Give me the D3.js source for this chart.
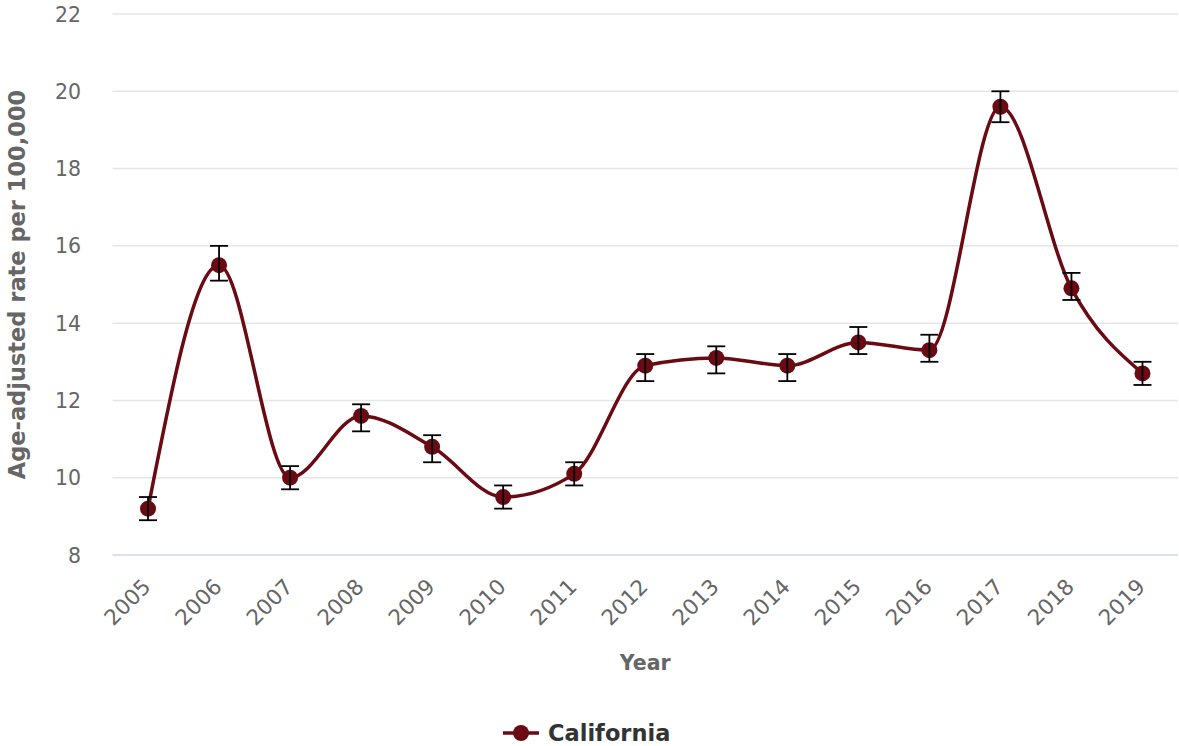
<!DOCTYPE html>
<html>
<head>
<meta charset="utf-8">
<script src="https://cdn.jsdelivr.net/npm/d3@7"></script>
<style>
  html, body { margin: 0; padding: 0; background: #fff; }
  svg { display: block; font-family: "DejaVu Sans", sans-serif; }
</style>
</head>
<body>
<svg id="chart" width="1179" height="746"></svg>
<script>
// Age-adjusted rate per 100,000, California, with confidence limits
const years = ["2005","2006","2007","2008","2009","2010","2011","2012","2013","2014","2015","2016","2017","2018","2019"];
const rates = [9.2, 15.5, 10.0, 11.6, 10.8, 9.5, 10.1, 12.9, 13.1, 12.9, 13.5, 13.3, 19.6, 14.9, 12.7];
const lowerCI = [8.9, 15.1, 9.7, 11.2, 10.4, 9.2, 9.8, 12.5, 12.7, 12.5, 13.2, 13.0, 19.2, 14.6, 12.4];
const upperCI = [9.5, 16.0, 10.3, 11.9, 11.1, 9.8, 10.4, 13.2, 13.4, 13.2, 13.9, 13.7, 20.0, 15.3, 13.0];
const yTicks = [8, 10, 12, 14, 16, 18, 20, 22];
const seriesName = "California";

const color = "#6a0a13";
const svg = d3.select("#chart");
const margin = { left: 112.5, right: 1178, top: 14, bottom: 555 };

const x = d3.scaleBand().domain(years).range([margin.left, margin.right]);
const y = d3.scaleLinear().domain([8, 22]).range([margin.bottom, margin.top]);
const cx = d => x(d) + x.bandwidth() / 2;

// horizontal grid lines
svg.append("g").selectAll("line").data(yTicks.filter(t => t !== 8)).join("line")
  .attr("x1", margin.left).attr("x2", margin.right)
  .attr("y1", d => y(d)).attr("y2", d => y(d))
  .attr("stroke", "#e6e6e6").attr("stroke-width", 1.5);

// y tick labels
svg.append("g").selectAll("text").data(yTicks).join("text")
  .attr("x", 81).attr("y", d => y(d) + 7.5)
  .attr("text-anchor", "end")
  .attr("fill", "#666").attr("font-size", 20.5)
  .text(d => d);

// x axis line
svg.append("line")
  .attr("x1", margin.left).attr("x2", margin.right)
  .attr("y1", y(8)).attr("y2", y(8))
  .attr("stroke", "#ccd6eb").attr("stroke-width", 1.5);

// x tick labels, rotated
svg.append("g").selectAll("text").data(years).join("text")
  .attr("transform", d => `translate(${cx(d) + 4},${y(8) + 33}) rotate(-45)`)
  .attr("text-anchor", "end")
  .attr("fill", "#666").attr("font-size", 21.5)
  .text(d => d);

// axis titles
svg.append("text")
  .attr("x", (margin.left + margin.right) / 2).attr("y", 670)
  .attr("text-anchor", "middle")
  .attr("fill", "#666").attr("font-size", 20.5).attr("font-weight", "bold")
  .text("Year");

svg.append("text")
  .attr("transform", `translate(25,${(margin.top + margin.bottom) / 2}) rotate(-90)`)
  .attr("text-anchor", "middle")
  .attr("fill", "#666").attr("font-size", 22.5).attr("font-weight", "bold")
  .text("Age-adjusted rate per 100,000");

// smoothed series line
const pts = years.map((yr, i) => ({ yr, v: rates[i], lo: lowerCI[i], hi: upperCI[i] }));
const line = d3.line().x(d => cx(d.yr)).y(d => y(d.v)).curve(d3.curveMonotoneX);
svg.append("path").datum(pts)
  .attr("d", line)
  .attr("fill", "none").attr("stroke", color).attr("stroke-width", 3.5);

// markers
svg.append("g").selectAll("circle").data(pts).join("circle")
  .attr("cx", d => cx(d.yr)).attr("cy", d => y(d.v))
  .attr("r", 8).attr("fill", color);

// error bars
const eb = svg.append("g").attr("stroke", "#000").attr("stroke-width", 1.8).attr("fill", "none");
pts.forEach(d => {
  const xc = cx(d.yr);
  eb.append("line").attr("x1", xc).attr("x2", xc).attr("y1", y(d.lo)).attr("y2", y(d.hi));
  eb.append("line").attr("x1", xc - 9).attr("x2", xc + 9).attr("y1", y(d.lo)).attr("y2", y(d.lo));
  eb.append("line").attr("x1", xc - 9).attr("x2", xc + 9).attr("y1", y(d.hi)).attr("y2", y(d.hi));
});

// legend
const lg = svg.append("g").attr("transform", "translate(503,733)");
lg.append("line").attr("x1", 0).attr("x2", 36).attr("y1", 0).attr("y2", 0)
  .attr("stroke", color).attr("stroke-width", 3.5);
lg.append("circle").attr("cx", 18).attr("cy", 0).attr("r", 8).attr("fill", color);
lg.append("text").attr("x", 45).attr("y", 8)
  .attr("fill", "#333").attr("font-size", 22.5).attr("font-weight", "bold")
  .text(seriesName);
</script>
</body>
</html>
